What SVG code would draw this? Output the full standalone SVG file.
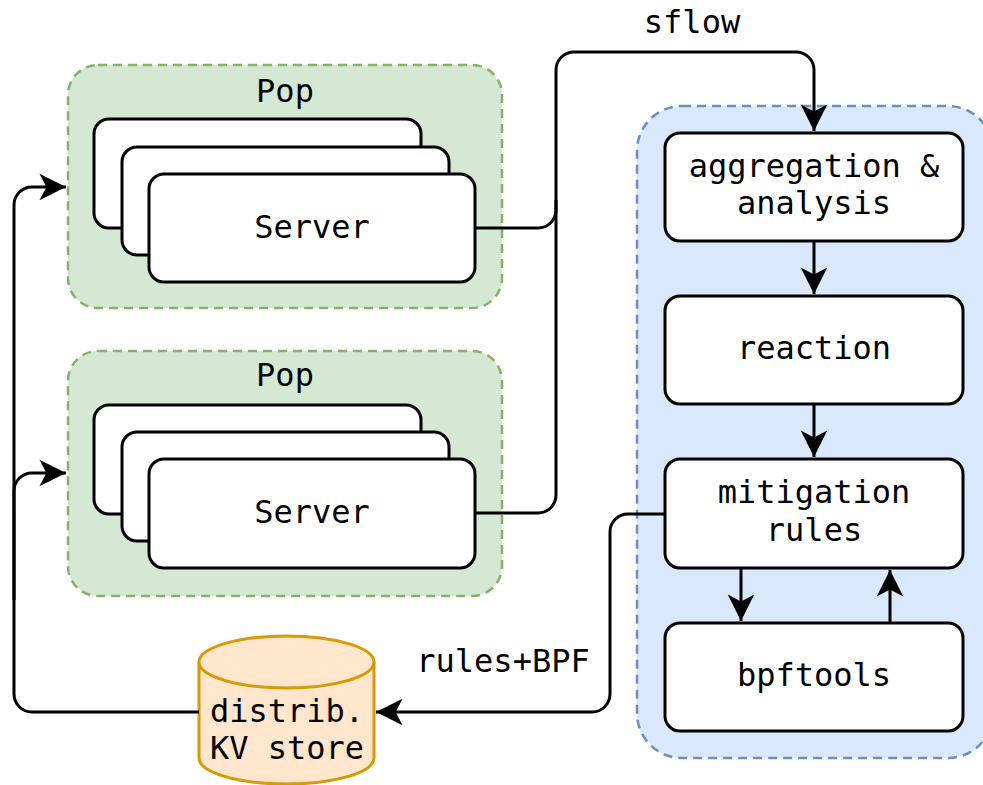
<svg xmlns="http://www.w3.org/2000/svg" width="983" height="785" viewBox="0 0 983 785">
<defs>
<marker id="arr" markerUnits="userSpaceOnUse" markerWidth="30" markerHeight="30" viewBox="-25 -13 26 26" refX="0" refY="0" orient="auto">
<path d="M0,0 L-23,-11.5 L-17,0 L-23,11.5 Z" fill="#000"/>
</marker>
</defs>
<style>
text{font-family:"DejaVu Sans Mono","Liberation Mono",monospace;font-size:32px;fill:#000;text-anchor:middle}
.pop{fill:#d5e8d4;stroke:#82b366;stroke-width:2.5;stroke-dasharray:9,6}
.grp{fill:#dae8fc;stroke:#6c8ebf;stroke-width:2.5;stroke-dasharray:9,6}
.box{fill:#fff;stroke:#000;stroke-width:3}
.cyl{fill:#ffe6cc;stroke:#d79b00;stroke-width:3}
.edge{fill:none;stroke:#000;stroke-width:3}
</style>
<rect width="983" height="785" fill="#fff"/>
<g id="pop1">
<rect class="pop" x="68" y="65" width="434" height="243" rx="30"/>
<text x="285" y="102">Pop</text>
</g>
<g id="server1">
<rect class="box" x="94" y="119" width="327" height="109" rx="15"/>
<rect class="box" x="122" y="147" width="327" height="108" rx="15"/>
<rect class="box" x="149" y="174" width="326" height="108" rx="15"/>
<text x="312" y="238">Server</text>
</g>
<g id="pop2">
<rect class="pop" x="68" y="351" width="434" height="245" rx="30"/>
<text x="285" y="386">Pop</text>
</g>
<g id="server2">
<rect class="box" x="94" y="405" width="327" height="109" rx="15"/>
<rect class="box" x="122" y="432" width="327" height="109" rx="15"/>
<rect class="box" x="149" y="459" width="326" height="109" rx="15"/>
<text x="312" y="523">Server</text>
</g>
<g id="pipeline">
<rect class="grp" x="637" y="106" width="356" height="652" rx="45"/>
</g>
<g id="aggregation">
<rect class="box" x="665" y="133" width="298" height="108" rx="15"/>
<text x="814" y="177">aggregation &amp;</text>
<text x="814" y="214">analysis</text>
</g>
<g id="reaction">
<rect class="box" x="665" y="296" width="298" height="108" rx="15"/>
<text x="814" y="359">reaction</text>
</g>
<g id="mitigation">
<rect class="box" x="665" y="459" width="298" height="109" rx="15"/>
<text x="814" y="503">mitigation</text>
<text x="814" y="541">rules</text>
</g>
<g id="bpftools">
<rect class="box" x="665" y="623" width="298" height="108" rx="15"/>
<text x="814" y="686">bpftools</text>
</g>
<g id="kvstore">
<path class="cyl" d="M199,662 A87.5,26 0 0 1 374,662 L374,758 A87.5,26 0 0 1 199,758 Z"/>
<path class="cyl" fill="none" d="M199,662 A87.5,26 0 0 0 374,662"/>
<text x="287" y="722">distrib.</text>
<text x="287" y="759">KV store</text>
</g>
<g id="connectors">
<path class="edge" d="M475,228 H538 A18,18 0 0 0 556,210 V70 A18,18 0 0 1 574,52 H796 A18,18 0 0 1 814,70 V131" marker-end="url(#arr)"/>
<path class="edge" d="M475,513 H538 A18,18 0 0 0 556,495 V200"/>
<text x="692" y="33">sflow</text>
<path class="edge" d="M814,241 V294" marker-end="url(#arr)"/>
<path class="edge" d="M814,404 V457" marker-end="url(#arr)"/>
<path class="edge" d="M741,568 V621" marker-end="url(#arr)"/>
<path class="edge" d="M890,623 V570" marker-end="url(#arr)"/>
<path class="edge" d="M665,514 H628 A18,18 0 0 0 610,532 V694 A18,18 0 0 1 592,712 H376" marker-end="url(#arr)"/>
<text x="503" y="672">rules+BPF</text>
<path class="edge" d="M199,712 H32 A18,18 0 0 1 14,694 V205 A18,18 0 0 1 32,187 H66" marker-end="url(#arr)"/>
<path class="edge" d="M14,600 V491 A18,18 0 0 1 32,473 H66" marker-end="url(#arr)"/>
</g>
</svg>
